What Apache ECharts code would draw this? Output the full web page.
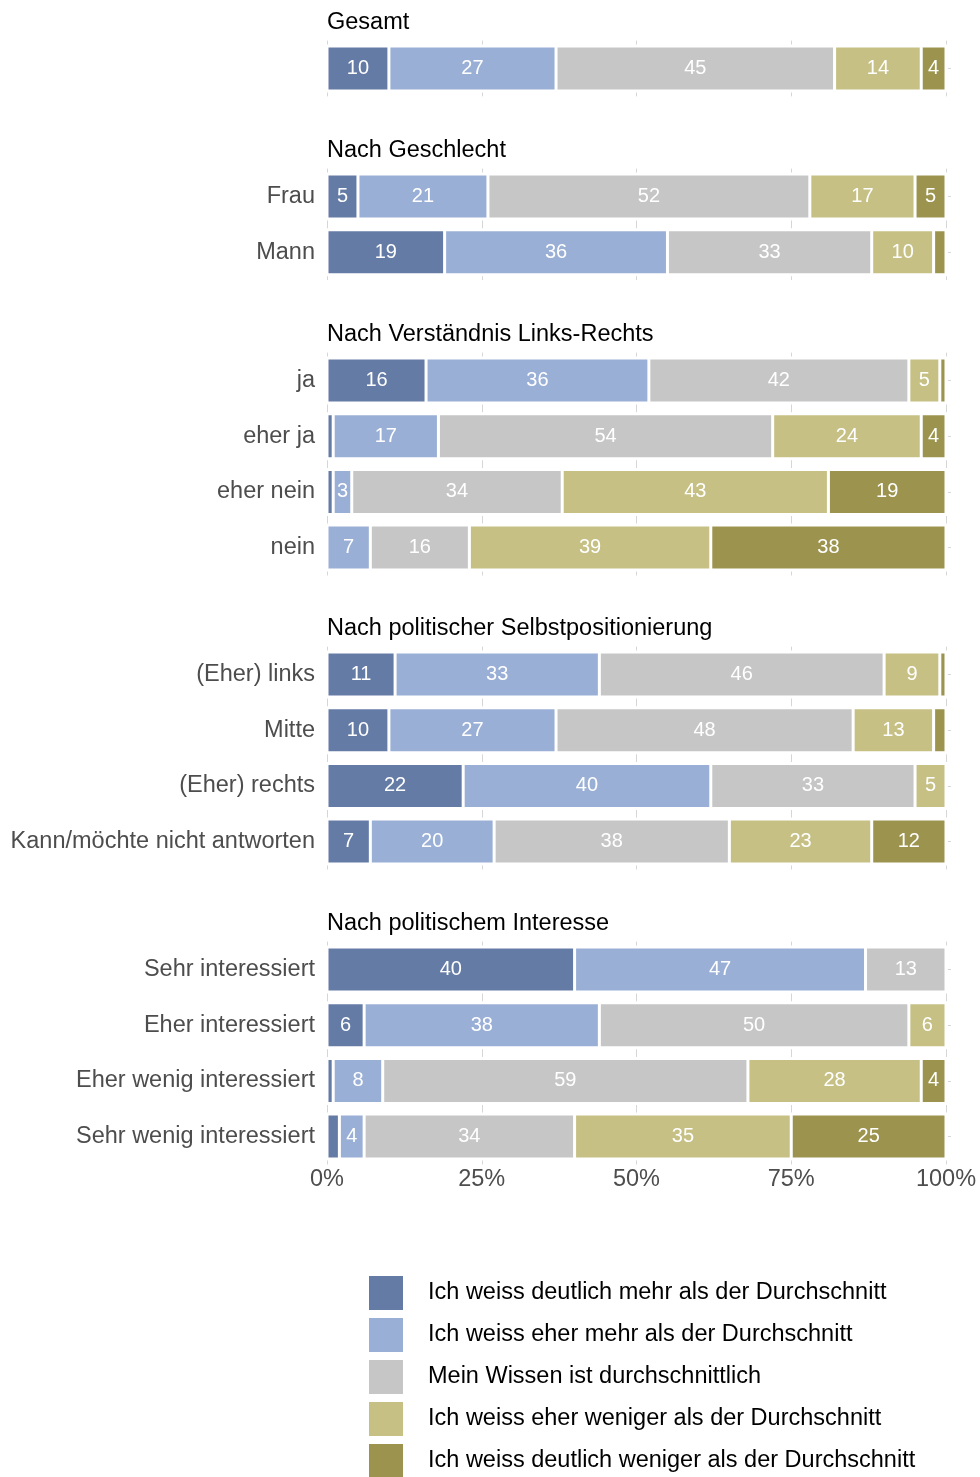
<!DOCTYPE html>
<html>
<head>
<meta charset="utf-8">
<script src="https://cdn.jsdelivr.net/npm/echarts@6/dist/echarts.min.js"></script>
<style>
html,body{margin:0;padding:0;background:#fff;}
#chart{width:980px;height:1477px;}
</style>
</head>
<body>
<div id="chart"></div>
<script>
// ---- data ----
const panelTitles = ['Gesamt', 'Nach Geschlecht', 'Nach Verständnis Links-Rechts', 'Nach politischer Selbstpositionierung', 'Nach politischem Interesse'];
const panelRows = [
  [''],
  ['Frau', 'Mann'],
  ['ja', 'eher ja', 'eher nein', 'nein'],
  ['(Eher) links', 'Mitte', '(Eher) rechts', 'Kann/möchte nicht antworten'],
  ['Sehr interessiert', 'Eher interessiert', 'Eher wenig interessiert', 'Sehr wenig interessiert']
];
const levelNames = [
  'Ich weiss deutlich mehr als der Durchschnitt',
  'Ich weiss eher mehr als der Durchschnitt',
  'Mein Wissen ist durchschnittlich',
  'Ich weiss eher weniger als der Durchschnitt',
  'Ich weiss deutlich weniger als der Durchschnitt'
];
// values in row order (all panels concatenated)
const deutlichMehr    = [10,  5, 19,  16,  1,  1,  0,  11, 10, 22,  7,  40,  6,  1,  2];
const eherMehr        = [27, 21, 36,  36, 17,  3,  7,  33, 27, 40, 20,  47, 38,  8,  4];
const durchschnitt    = [45, 52, 33,  42, 54, 34, 16,  46, 48, 33, 38,  13, 50, 59, 34];
const eherWeniger     = [14, 17, 10,   5, 24, 43, 39,   9, 13,  5, 23,   0,  6, 28, 35];
const deutlichWeniger = [ 4,  5,  2,   1,  4, 19, 38,   1,  2,  0, 12,   0,  0,  4, 25];
const xTicks = [0, 25, 50, 75, 100];
const fullScale = 100.3; // extent of the white backing band behind each bar row

const levelValues = [deutlichMehr, eherMehr, durchschnitt, eherWeniger, deutlichWeniger];
const levelColors = ['#647BA6', '#9AAFD6', '#C6C6C6', '#C6C084', '#9C944E'];

// ---- layout ----
const FONT = '"Liberation Sans", Arial, Helvetica, sans-serif';
const FS = 23.5;
const rowH = 55.7;
const firstCenters = [68.5, 196.5, 380.5, 674.5, 969.5];
const gridLeft = 327, gridRight = 980 - 946;

const grids = [], xAxes = [], yAxes = [], series = [], titles = [];
let offset = 0;
panelRows.forEach((rows, p) => {
  const top = firstCenters[p] - rowH / 2;
  grids.push({left: gridLeft, right: gridRight, top: top, height: rows.length * rowH, containLabel: false});
  titles.push({
    text: panelTitles[p], left: gridLeft, top: firstCenters[p] - 47 - 11, padding: 0,
    textStyle: {fontFamily: FONT, fontSize: FS, fontWeight: 'normal', color: '#000', lineHeight: 24}
  });
  const isLast = p === panelRows.length - 1;
  xAxes.push({
    type: 'value', gridIndex: p, min: 0, max: 100, interval: 25,
    axisLine: {show: false}, axisTick: {show: false},
    splitLine: {show: true, lineStyle: {color: '#d6d6d6', width: 1}},
    axisLabel: {show: isLast, formatter: v => xTicks.includes(v) ? v + '%' : '', fontFamily: FONT, fontSize: FS, color: '#4d4d4d', margin: 3}
  });
  yAxes.push({
    type: 'category', gridIndex: p, data: rows, inverse: true,
    axisLine: {show: false}, axisTick: {show: false}, splitLine: {show: false},
    axisLabel: {fontFamily: FONT, fontSize: FS, color: '#4d4d4d', margin: 12}
  });
  yAxes.push({
    type: 'category', gridIndex: p, data: rows, inverse: true, position: 'right',
    axisLine: {show: false},
    axisTick: {show: true, alignWithLabel: true, length: 5, lineStyle: {color: '#d6d6d6'}},
    axisLabel: {show: false}, splitLine: {show: false}
  });
  // white backing band (hides the grid lines just around each bar)
  series.push({
    type: 'bar', name: 'bg' + p, xAxisIndex: p, yAxisIndex: 2 * p + 1,
    barWidth: 48, clip: false, silent: true,
    data: rows.map(() => fullScale),
    itemStyle: {color: '#fff', borderWidth: 0},
    label: {show: false}, emphasis: {disabled: true}, tooltip: {show: false},
    animation: false
  });
  levelNames.forEach((name, k) => {
    series.push({
      type: 'bar', name: name, xAxisIndex: p, yAxisIndex: 2 * p, stack: 'panel' + p,
      barWidth: 45, clip: false,
      data: levelValues[k].slice(offset, offset + rows.length),
      itemStyle: {color: levelColors[k], borderColor: '#fff', borderWidth: 1.5},
      label: {
        show: true, position: 'inside', color: '#fff', fontFamily: '"Liberation Sans Narrow", "Arial Narrow", ' + FONT, fontSize: 20,
        formatter: d => d.value >= 3 ? String(d.value) : ''
      },
      emphasis: {disabled: true},
      animation: false
    });
  });
  offset += rows.length;
});

const chart = echarts.init(document.getElementById('chart'), null, {renderer: 'canvas'});
chart.setOption({
  animation: false,
  backgroundColor: '#fff',
  textStyle: {fontFamily: FONT},
  title: titles,
  grid: grids,
  xAxis: xAxes,
  yAxis: yAxes,
  legend: {
    data: levelNames, orient: 'vertical', left: 369, top: 1276, height: 260, padding: 0,
    itemWidth: 34, itemHeight: 34, itemGap: 8, icon: 'rect',
    itemStyle: {borderWidth: 0},
    textStyle: {fontFamily: FONT, fontSize: FS, color: '#000', padding: [6, 0, 0, 20]},
    selectedMode: false
  },
  series: series
});
</script>
</body>
</html>
